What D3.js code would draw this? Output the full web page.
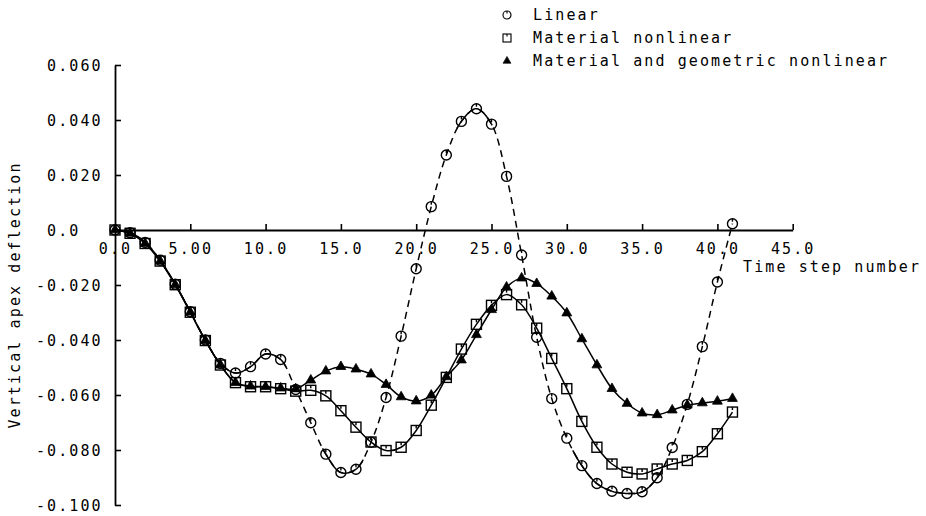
<!DOCTYPE html>
<html>
<head>
<meta charset="utf-8">
<script src="https://cdn.jsdelivr.net/npm/d3@7"></script>
<style>
  html, body { margin: 0; padding: 0; background: #fff; }
  svg { display: block; }
  text { font-family: "DejaVu Sans Mono", monospace; font-size: 15px; letter-spacing: 2.1px; fill: #000; }
</style>
</head>
<body>
<svg id="chart" width="926" height="516"></svg>
<script>
// ---- data ----
const steps = d3.range(0, 42);
const linearVals = [0, -0.001, -0.0045, -0.011, -0.0197, -0.0297, -0.040, -0.0485, -0.052, -0.0497,
  -0.0451, -0.0471, -0.058, -0.0701, -0.0815, -0.0882, -0.0870, -0.0772, -0.0609, -0.0386,
  -0.0141, 0.0085, 0.0273, 0.0395, 0.0441, 0.0385, 0.0195, -0.0091, -0.0390, -0.0613,
  -0.0757, -0.0857, -0.0922, -0.0950, -0.0958, -0.0952, -0.0901, -0.0791, -0.0634, -0.0424,
  -0.0189, 0.0023];
const materialVals = [0, -0.0012, -0.0049, -0.0113, -0.0199, -0.0299, -0.0402, -0.0491, -0.0555, -0.0570,
  -0.0570, -0.0577, -0.0586, -0.0583, -0.0603, -0.0657, -0.0717, -0.0771, -0.0802, -0.0790,
  -0.0729, -0.0637, -0.0536, -0.0433, -0.0343, -0.0274, -0.0235, -0.0272, -0.0357, -0.0467,
  -0.0577, -0.0696, -0.0790, -0.0851, -0.0881, -0.0887, -0.0869, -0.0851, -0.0838, -0.0806,
  -0.0741, -0.0662];
const geometricVals = [0, -0.0012, -0.0049, -0.0113, -0.0199, -0.0299, -0.0402, -0.0491, -0.0555, -0.0568,
  -0.0570, -0.0575, -0.0578, -0.0546, -0.0513, -0.0497, -0.0506, -0.0524, -0.0562, -0.0607,
  -0.0622, -0.0601, -0.0534, -0.0473, -0.0381, -0.0290, -0.0208, -0.0175, -0.0195, -0.0241,
  -0.0302, -0.0396, -0.0491, -0.0577, -0.0631, -0.0666, -0.0672, -0.0655, -0.0637, -0.0629,
  -0.0623, -0.0613];
const seriesNames = ["Linear", "Material nonlinear", "Material and geometric nonlinear"];
const xTicks = [0, 5, 10, 15, 20, 25, 30, 35, 40, 45];
const xTickLabels = ["0.0", "5.00", "10.0", "15.0", "20.0", "25.0", "30.0", "35.0", "40.0", "45.0"];
const yTicks = [0.06, 0.04, 0.02, 0, -0.02, -0.04, -0.06, -0.08, -0.1];
const yTickLabels = ["0.060", "0.040", "0.020", "0.0", "-0.020", "-0.040", "-0.060", "-0.080", "-0.100"];
const xTitle = "Time step number";
const yTitle = "Vertical apex deflection";

// ---- scales ----
const svg = d3.select("#chart");
const x = d3.scaleLinear().domain([0, 45]).range([115, 792.7]);
const y = d3.scaleLinear().domain([-0.1, 0.06]).range([505, 65]);
const charW = 11.1;

// ---- axes ----
const yAxis = d3.axisLeft(y).tickValues(yTicks).tickSizeInner(-6).tickSizeOuter(0)
  .tickFormat((d, i) => yTickLabels[i]);
const gy = svg.append("g").attr("transform", `translate(${x(0)},0)`).call(yAxis);
gy.select(".domain").attr("stroke", "#000").attr("stroke-width", 1.8);
gy.selectAll(".tick line").attr("stroke", "#000").attr("stroke-width", 1.6);
gy.selectAll(".tick text")
  .attr("text-anchor", "start")
  .attr("font-size", null).attr("font-family", null)
  .attr("x", (d, i) => -68 - (yTickLabels[i].startsWith("-") ? charW : 0))
  .attr("dy", "0.36em");

const xAxis = d3.axisBottom(x).tickValues(xTicks).tickSizeInner(-6).tickSizeOuter(0)
  .tickPadding(13).tickFormat((d, i) => xTickLabels[i]);
const gx = svg.append("g").attr("transform", `translate(0,${y(0)})`).call(xAxis);
gx.select(".domain").attr("stroke", "#000").attr("stroke-width", 1.8);
gx.selectAll(".tick line").attr("stroke", "#000").attr("stroke-width", 1.6);
gx.selectAll(".tick text").attr("font-size", null).attr("font-family", null);
svg.selectAll(".domain").attr("fill", "none");

// titles
svg.append("text").attr("x", 743).attr("y", 272).text(xTitle);
svg.append("text").attr("transform", "translate(20,295) rotate(-90)")
  .attr("text-anchor", "middle").text(yTitle);

// ---- lines ----
const lin = steps.map((s, i) => [s, linearVals[i]]);
const mat = steps.map((s, i) => [s, materialVals[i]]);
const geo = steps.map((s, i) => [s, geometricVals[i]]);
const line = d3.line().x(d => x(d[0])).y(d => y(d[1])).curve(d3.curveCatmullRom.alpha(0.5));
const lines = svg.append("g").attr("fill", "none").attr("stroke", "#000");

lines.append("path").attr("d", line(geo)).attr("stroke-width", 1.5);
lines.append("path").attr("d", line(mat)).attr("stroke-width", 1.5);
const linPath = lines.append("path").attr("d", line(lin)).attr("stroke-width", 1.5)
  .attr("stroke-dasharray", "7,5");

// solid overlay where the linear curve is flat (plotter dashes look solid there)
(function () {
  const node = linPath.node();
  const L = node.getTotalLength();
  const pts = [];
  for (let l = 0; l <= L; l += 1) { const p = node.getPointAtLength(l); pts.push([p.x, p.y]); }
  let run = [];
  const runs = [];
  for (let i = 1; i < pts.length; i++) {
    const dx = pts[i][0] - pts[i - 1][0], dy = pts[i][1] - pts[i - 1][1];
    const flat = dx > 0 && Math.abs(dy / dx) < 1.9;
    if (flat) { if (!run.length) run.push(pts[i - 1]); run.push(pts[i]); }
    else { if (run.length > 3) runs.push(run); run = []; }
  }
  if (run.length > 3) runs.push(run);
  const pl = d3.line();
  runs.forEach(r => lines.append("path").attr("d", pl(r)).attr("stroke-width", 1.5));
})();

// ---- markers ----
function drawCircle(g) {
  g.append("circle").attr("r", 5).attr("fill", "none").attr("stroke", "#000").attr("stroke-width", 1.4);
  g.append("line").attr("x1", 0).attr("x2", 0).attr("y1", -5).attr("y2", -2).attr("stroke", "#000").attr("stroke-width", 1.4);
}
function drawSquare(g) {
  g.append("rect").attr("x", -5).attr("y", -5).attr("width", 10).attr("height", 10)
    .attr("fill", "none").attr("stroke", "#000").attr("stroke-width", 1.4);
  g.append("line").attr("x1", 0).attr("x2", 0).attr("y1", -5).attr("y2", -2).attr("stroke", "#000").attr("stroke-width", 1.4);
}
function drawTriangle(g) {
  g.append("path").attr("d", d3.symbol(d3.symbolTriangle, 42)()).attr("fill", "#000")
    .attr("stroke", "#000").attr("stroke-width", 0.8);
}
const markerFns = [drawCircle, drawSquare, drawTriangle];
[lin, mat, geo].forEach((data, si) => {
  svg.append("g").selectAll("g").data(data).join("g")
    .attr("transform", d => `translate(${x(d[0])},${y(d[1])})`)
    .each(function () { markerFns[si](d3.select(this)); });
});

// ---- legend ----
const legend = svg.append("g");
seriesNames.forEach((name, i) => {
  const row = legend.append("g").attr("transform", `translate(507,${15 + i * 23})`);
  markerFns[i](row.append("g").attr("transform", "scale(0.8)"));
  row.append("text").attr("x", 26).attr("dy", "0.36em").text(name);
});
</script>
</body>
</html>
